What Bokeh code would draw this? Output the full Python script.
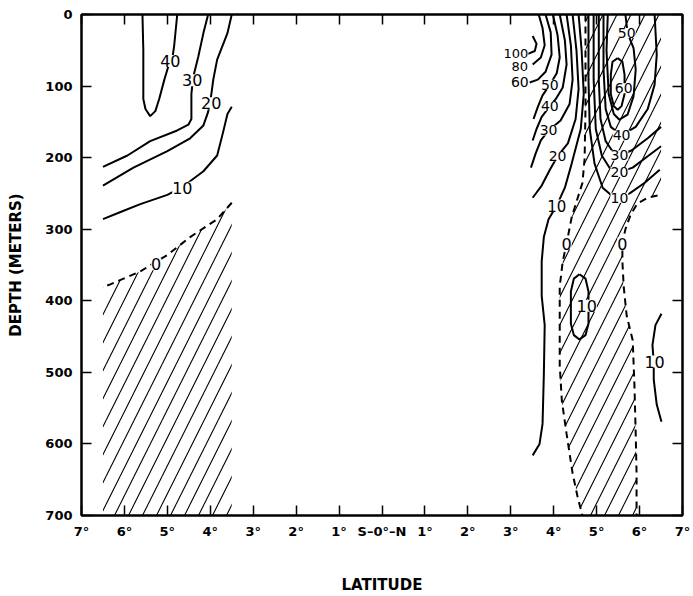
from bokeh.plotting import figure
from bokeh.models import Range1d, FixedTicker, LinearAxis, ColumnDataSource, LabelSet
from bokeh.core.properties import value, field
from bokeh.embed import file_html
from bokeh.resources import INLINE

# ---------------- data (latitude in degrees, negative = S; depth in metres) ----------------
x_ticks = [-7, -6, -5, -4, -3, -2, -1, 0, 1, 2, 3, 4, 5, 6, 7]
x_tick_labels = ["7°", "6°", "5°", "4°", "3°", "2°", "1°", "S–0°–N",
                 "1°", "2°", "3°", "4°", "5°", "6°", "7°"]
y_ticks = [0, 100, 200, 300, 400, 500, 600, 700]

# southern section
s40_lat = [-5.58, -5.56, -5.56, -5.51, -5.40, -5.28, -5.19, -5.07, -4.98, -4.88, -4.84, -4.77]
s40_dep = [0, 50, 118, 132, 142, 135, 118, 91, 73, 60, 43, 0]
s30_lat = [-4.05, -4.16, -4.28, -4.40, -4.44, -4.44, -4.51, -4.77, -5.40, -5.93, -6.50]
s30_dep = [0, 26, 59, 88, 111, 146, 154, 162, 177, 197, 213]
s20_lat = [-3.50, -3.60, -3.84, -3.93, -4.00, -4.05, -4.16, -4.47, -5.00, -5.79, -6.50]
s20_dep = [0, 26, 63, 91, 122, 136, 155, 173, 191, 214, 239]
s10_lat = [-3.50, -3.60, -3.70, -3.84, -4.16, -4.65, -5.00, -5.63, -6.09, -6.50]
s10_dep = [129, 139, 164, 197, 219, 241, 252, 265, 276, 286]
s0_lat = [-3.50, -3.84, -4.47, -5.00, -5.28, -5.63, -6.33, -6.50]
s0_dep = [263, 286, 311, 336, 346, 359, 377, 381]

# northern section, western flank of the surface maximum
n100_lat = [3.51, 3.60, 3.56, 3.40]
n100_dep = [30, 41, 51, 55]
n80_lat = [3.65, 3.74, 3.79, 3.70, 3.51]
n80_dep = [0, 19, 43, 60, 70]
n60_lat = [3.81, 3.93, 3.95, 3.81, 3.63, 3.44]
n60_dep = [0, 25, 56, 80, 91, 95]
n50w_lat = [3.98, 4.09, 4.14, 4.07, 3.91, 3.74, 3.63, 3.53]
n50w_dep = [0, 29, 60, 82, 98, 113, 129, 146]
n40w_lat = [4.14, 4.26, 4.30, 4.21, 4.05, 3.91, 3.72, 3.60, 3.51]
n40w_dep = [0, 36, 70, 102, 118, 128, 143, 160, 176]
n30w_lat = [4.30, 4.40, 4.44, 4.37, 4.16, 3.88, 3.70, 3.58, 3.47]
n30w_dep = [0, 43, 91, 125, 148, 162, 176, 194, 214]
n20w_lat = [4.44, 4.53, 4.58, 4.51, 4.33, 4.09, 3.91, 3.72, 3.51]
n20w_dep = [0, 50, 104, 146, 180, 198, 217, 239, 256]
n10w_lat = [4.58, 4.65, 4.70, 4.63, 4.42, 4.26, 4.07, 3.88, 3.77, 3.72, 3.72, 3.79, 3.77, 3.74, 3.67, 3.51]
n10w_dep = [0, 50, 111, 160, 208, 242, 267, 286, 311, 345, 393, 434, 503, 572, 600, 616]

# northern section, zero contours
n0w_lat = [4.74, 4.74, 4.74, 4.72, 4.67, 4.56, 4.42, 4.30, 4.21, 4.14, 4.14, 4.14, 4.19, 4.30, 4.44, 4.56, 4.67]
n0w_dep = [0, 63, 132, 201, 235, 256, 283, 320, 345, 380, 434, 490, 540, 586, 641, 675, 700]
n0e_lat = [6.42, 6.19, 5.95, 5.79, 5.67, 5.60, 5.60, 5.63, 5.70, 5.84, 5.88, 5.91, 5.93, 5.93]
n0e_dep = [253, 256, 264, 280, 300, 320, 345, 380, 421, 455, 517, 586, 641, 700]

# northern section, subsurface maximum
n10e_lat = [4.81, 4.81, 4.84, 4.95, 5.14, 5.35, 5.53, 5.77, 6.12, 6.47]
n10e_dep = [0, 91, 160, 208, 242, 253, 256, 250, 235, 217]
n20e_lat = [4.93, 4.93, 4.98, 5.12, 5.30, 5.53, 5.84, 6.19, 6.50]
n20e_dep = [0, 91, 160, 197, 214, 220, 214, 198, 184]
n30e_lat = [5.05, 5.05, 5.09, 5.21, 5.37, 5.53, 5.81, 6.19, 6.50]
n30e_dep = [0, 91, 146, 177, 191, 197, 190, 173, 157]
n40e_lat = [5.16, 5.16, 5.21, 5.33, 5.58, 5.91, 6.19, 6.35, 6.40, 6.35]
n40e_dep = [0, 77, 132, 157, 169, 157, 132, 98, 56, 0]
n50e_lat = [5.26, 5.23, 5.28, 5.40, 5.53, 5.72, 5.86, 5.91, 5.86, 5.72, 5.67]
n50e_dep = [0, 50, 111, 139, 147, 140, 114, 77, 47, 26, 0]
n60e_lat = [5.49, 5.60, 5.65, 5.65, 5.58, 5.49, 5.40, 5.33, 5.33, 5.37, 5.49]
n60e_dep = [61, 66, 84, 111, 128, 133, 128, 111, 84, 66, 61]

# deeper northern contours
n10c_lat = [4.60, 4.74, 4.81, 4.81, 4.74, 4.60, 4.47, 4.40, 4.40, 4.47, 4.60]
n10c_dep = [363, 369, 387, 432, 448, 454, 448, 432, 387, 369, 363]
n10r_lat = [6.51, 6.37, 6.30, 6.33, 6.33, 6.40, 6.51]
n10r_dep = [418, 434, 462, 485, 510, 545, 569]

# contour value labels
lab_text = ["40", "30", "20", "10", "0",
            "100", "80", "60", "50", "40", "30", "20", "10",
            "50", "60", "40", "30", "20", "10",
            "0", "0", "10", "10"]
lab_lat = [-4.93, -4.42, -3.98, -4.65, -5.26,
           3.12, 3.21, 3.21, 3.91, 3.91, 3.88, 4.09, 4.07,
           5.70, 5.63, 5.58, 5.53, 5.53, 5.53,
           4.30, 5.60, 4.77, 6.35]
lab_dep = [65, 92, 124, 242, 349,
           54, 73, 95, 98, 128, 162, 198, 267,
           26, 103, 169, 197, 220, 256,
           320, 320, 407, 485]
lab_size = ["16px", "16px", "16px", "16px", "16px",
            "13px", "13px", "14px", "14px", "14px", "14px", "14px", "15px",
            "14px", "14px", "14px", "14px", "14px", "14px",
            "16px", "16px", "16px", "16px"]

# ---------------- figure ----------------
FONT = "DejaVu Sans"
p = figure(width=693, height=596, output_backend="svg", toolbar_location=None,
           x_range=Range1d(-7, 7), y_range=Range1d(700, 0),
           min_border_left=81, min_border_right=11, min_border_top=14, min_border_bottom=73,
           background_fill_color="white", border_fill_color="white")
p.grid.visible = False
p.outline_line_color = "black"
p.outline_line_width = 2

# hatched (negative) regions
p.patch(s0_lat + [-6.5, -3.5], s0_dep + [700, 700], fill_color=None, line_color=None,
        hatch_pattern="/", hatch_scale=28, hatch_weight=1.1, hatch_color="black")
p.patch(n0w_lat + n0e_lat[::-1] + [6.5, 6.5], n0w_dep + n0e_dep[::-1] + [253, 0],
        fill_color=None, line_color=None,
        hatch_pattern="/", hatch_scale=28, hatch_weight=1.1, hatch_color="black")

solid = [(s40_lat, s40_dep), (s30_lat, s30_dep), (s20_lat, s20_dep), (s10_lat, s10_dep),
         (n100_lat, n100_dep), (n80_lat, n80_dep), (n60_lat, n60_dep), (n50w_lat, n50w_dep),
         (n40w_lat, n40w_dep), (n30w_lat, n30w_dep), (n20w_lat, n20w_dep), (n10w_lat, n10w_dep),
         (n10e_lat, n10e_dep), (n20e_lat, n20e_dep), (n30e_lat, n30e_dep), (n40e_lat, n40e_dep),
         (n50e_lat, n50e_dep), (n60e_lat, n60e_dep), (n10c_lat, n10c_dep), (n10r_lat, n10r_dep)]
for xs, ys in solid:
    p.line(xs, ys, line_color="black", line_width=2)

for xs, ys in [(s0_lat, s0_dep), (n0w_lat, n0w_dep), (n0e_lat, n0e_dep)]:
    p.line(xs, ys, line_color="black", line_width=2, line_dash="7 5")

src = ColumnDataSource(dict(x=lab_lat, y=lab_dep, t=lab_text, s=lab_size))
p.add_layout(LabelSet(x="x", y="y", text="t", source=src, text_align="center",
                      text_baseline="middle", text_font=value(FONT),
                      text_font_size=field("s"),
                      text_color="black", background_fill_color="white"))

# axes
for ax in (p.xaxis[0], p.yaxis[0]):
    ax.major_tick_in = 10
    ax.major_tick_out = 0
    ax.minor_tick_line_color = None
    ax.axis_line_width = 2
    ax.axis_line_color = "black"
    ax.major_tick_line_color = "black"
    ax.major_tick_line_width = 1.5
    ax.major_label_text_font = FONT
    ax.major_label_text_font_style = "bold"
    ax.major_label_text_font_size = "13px"
    ax.major_label_text_color = "black"
    ax.axis_label_text_font = FONT
    ax.axis_label_text_font_style = "bold"
    ax.axis_label_text_font_size = "15px"
    ax.axis_label_text_color = "black"

p.xaxis[0].ticker = FixedTicker(ticks=x_ticks)
p.xaxis[0].major_label_overrides = {t: l for t, l in zip(x_ticks, x_tick_labels)}
p.xaxis[0].major_label_standoff = 8
p.xaxis[0].axis_label = "LATITUDE"
p.xaxis[0].axis_label_standoff = 34

p.yaxis[0].ticker = FixedTicker(ticks=y_ticks)
p.yaxis[0].major_label_standoff = 9
p.yaxis[0].axis_label = "DEPTH (METERS)"
p.yaxis[0].axis_label_standoff = 17

top = LinearAxis(ticker=FixedTicker(ticks=x_ticks), major_tick_in=10, major_tick_out=0,
                 minor_tick_line_color=None, axis_line_width=2, major_tick_line_width=1.5,
                 axis_line_color="black", major_tick_line_color="black",
                 major_label_text_color=None, major_label_standoff=0)
right = LinearAxis(ticker=FixedTicker(ticks=y_ticks), major_tick_in=10, major_tick_out=0,
                   minor_tick_line_color=None, axis_line_width=2, major_tick_line_width=1.5,
                   axis_line_color="black", major_tick_line_color="black",
                   major_label_text_color=None, major_label_standoff=0)
p.add_layout(top, "above")
p.add_layout(right, "right")

open("out.html", "w").write(file_html(p, INLINE))
